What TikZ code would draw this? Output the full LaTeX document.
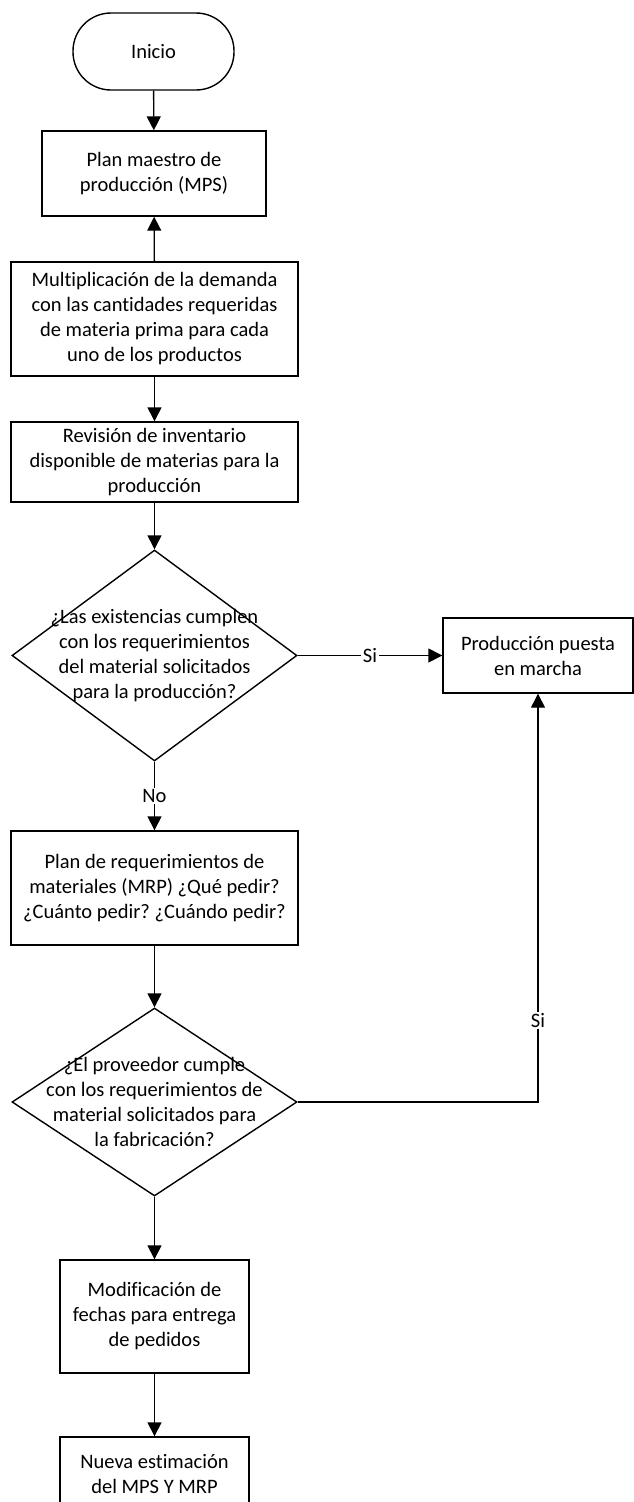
\documentclass[tikz,border=0pt]{standalone}
\usepackage{fontspec}
\setmainfont{Carlito}[Ligatures={NoCommon}]
\usetikzlibrary{shapes.geometric,arrows.meta}
\frenchspacing
\begin{document}
\begin{tikzpicture}[x=1pt,y=-1pt,
  every node/.style={font=\fontsize{20.5}{25}\selectfont},
  proc/.style={draw, line width=1.4pt, fill=white, align=center, inner sep=0pt},
  term/.style={proc, rounded corners=38pt},
  dec/.style={draw, diamond, line width=1.4pt, fill=white, inner sep=0pt, minimum width=285pt},
  arr/.style={line width=1.4pt, -{Triangle[length=14pt,width=14pt]}},
  lab/.style={fill=white, inner sep=1.5pt}]
\useasboundingbox (0,0) rectangle (634,1502);
\clip (0,0) rectangle (634,1502);

\node[term, minimum width=161pt, minimum height=77pt] (start) at (153.5,51.5) {Inicio};
\node[proc, minimum width=224pt, minimum height=85pt] (mps) at (154,173.5) {Plan maestro de\\producción (MPS)};
\node[proc, minimum width=287pt, minimum height=114pt] (mult) at (154.5,319) {Multiplicación de la demanda\\con las cantidades requeridas\\de materia prima para cada\\uno de los productos};
\node[proc, minimum width=287pt, minimum height=80pt] (rev) at (154.5,462) {Revisión de inventario\\disponible de materias para la\\producción};
\node[dec, minimum height=211pt, label={[align=center]center:{¿Las existencias cumplen\\con los requerimientos\\del material solicitados\\para la producción?}}] (d1) at (154.5,655.5) {};
\node[proc, minimum width=190pt, minimum height=75pt] (prod) at (538,655.5) {Producción puesta\\en marcha};
\node[proc, minimum width=287pt, minimum height=114pt] (plan) at (154.5,888) {Plan de requerimientos de\\materiales (MRP) ¿Qué pedir?\\¿Cuánto pedir? ¿Cuándo pedir?};
\node[dec, minimum height=188pt, label={[align=center]center:{¿El proveedor cumple\\con los requerimientos de\\material solicitados para\\la fabricación?}}] (d2) at (154.5,1102) {};
\node[proc, minimum width=189pt, minimum height=113pt] (mod) at (154.5,1316.5) {Modificación de\\fechas para entrega\\de pedidos};
\node[proc, minimum width=189pt, minimum height=74pt] (nueva) at (154.5,1474) {Nueva estimación\\del MPS Y MRP};

\draw[arr] (start) -- (mps);
\draw[arr] (mult) -- (mps);
\draw[arr] (mult) -- (rev);
\draw[arr] (rev) -- (d1);
\draw[arr] (d1.east) -- node[lab]{Si} (prod.west);
\draw[arr] (d1.south) -- node[lab]{No} (plan.north);
\draw[arr] (plan) -- (d2);
\draw[arr] (d2.east) -| node[lab,pos=0.6]{Si} (prod.south);
\draw[arr] (d2.south) -- (mod.north);
\draw[arr] (mod) -- (nueva);
\end{tikzpicture}
\end{document}
